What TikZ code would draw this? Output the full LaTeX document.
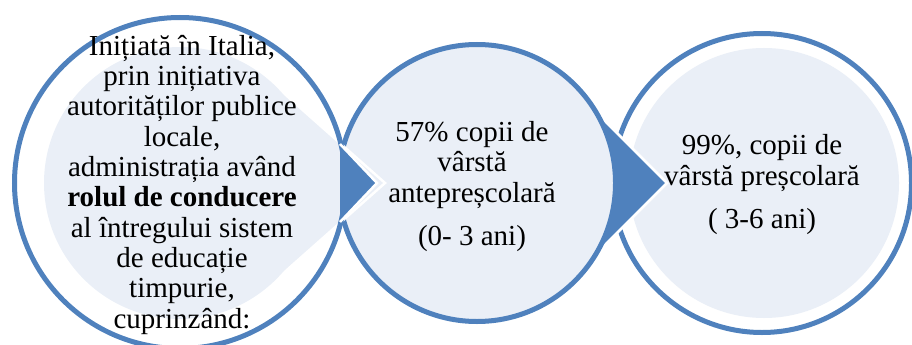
\documentclass[tikz,border=0pt]{standalone}
\usepackage{fontspec}
\setmainfont{Liberation Serif}
\usetikzlibrary{positioning}
\definecolor{ringblue}{HTML}{4F81BD}
\definecolor{palefill}{HTML}{EAEFF7}

\begin{document}
\begin{tikzpicture}[x=1pt,y=-1pt]

        % Styles:
        \tikzstyle{ring}=[circle, draw=ringblue, line width=5pt, inner sep=0pt]
        \tikzstyle{disk}=[circle, fill=palefill, inner sep=0pt]
        \tikzstyle{edge}=[draw=white, line width=2.5pt, line join=miter]
        \tikzstyle{texto}=[align=center, inner sep=0pt,
        font=\fontsize{29}{30.3}\selectfont]

        % Blue tip: #1 name, #2 top, #3 point, #4 bottom
        \newcommand{\bluetip}[4]{%
            \coordinate (a#1) at #2;
            \coordinate (t#1) at #3;
            \coordinate (b#1) at #4;
            \fill[ringblue] (a#1) -- (t#1) -- (b#1) -- cycle;
            \draw[edge] (a#1) -- (t#1) -- (b#1);}

        \useasboundingbox (0,0) rectangle (912,345);
        \clip (0,0) rectangle (912,345);

        % Third circle:
        \node (c3) [ring, fill=white, minimum size=299] at (762,183) {};
        \node (d3) [disk, minimum size=270] at (764,183) {};

        % Arrow 2 -> 3:
        \bluetip{23}{(590,106)}{(667,183)}{(590,260)}

        % Second circle:
        \node (c2) [ring, fill=palefill, minimum size=277] at (477,183) {};

        % First circle, with its pale point:
        \coordinate (u1) at (270.3,81.3);
        \coordinate (v1) at (385,183);
        \coordinate (w1) at (270.3,284.7);
        \fill[palefill] (u1) -- (v1) -- (w1) -- cycle;
        \draw[edge] (u1) -- (v1) -- (w1);
        \node (d1) [disk, minimum size=272] at (180,183) {};
        \node (c1) [ring, minimum size=331] at (180,183) {};

        % Arrow 1 -> 2:
        \bluetip{12}{(340,144)}{(377,183)}{(340,222)}

        % Texts (anchored at the last baseline):
        \node (t1) [texto, anchor=base] at (182,328) {Inițiată în Italia,\\
            prin inițiativa\\ autorităților publice\\ locale,\\
            administrația având\\ \textbf{rolul de conducere}\\
            al întregului sistem\\ de educație\\ timpurie,\\ cuprinzând:};
        \node (t2) [texto, anchor=base] at (472,245) {57\% copii de\\ vârstă\\
            antepreșcolară\\[12.7pt] (0- 3 ani)};
        \node (t3) [texto, anchor=base] at (762,228) {99\%, copii de\\
            vârstă preșcolară\\[12.7pt] ( 3-6 ani)};
\end{tikzpicture}
\end{document}
